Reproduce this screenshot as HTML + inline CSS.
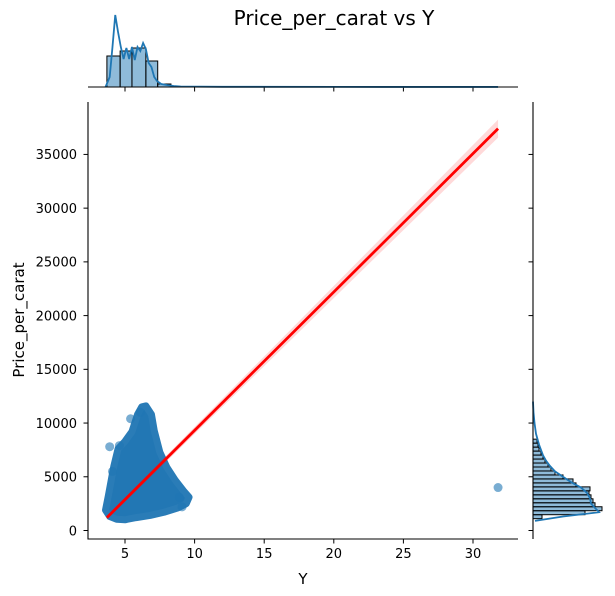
<!DOCTYPE html>
<html><head><meta charset="utf-8"><style>
body{margin:0;background:#fff}
svg{display:block;font-family:"DejaVu Sans","Liberation Sans",sans-serif}
</style></head><body>
<svg id="chart" width="615" height="596">
<rect width="615" height="596" fill="#fff"/>
<text x="334" y="25" font-size="20" text-anchor="middle">Price_per_carat vs Y</text>
<g id="main"></g>
</svg>
<script>
const xTicks=[5,10,15,20,25,30];
const yTicks=[0,5000,10000,15000,20000,25000,30000,35000];
const blobX=[3.6,3.8,4.0,4.2,4.5,5.0,5.5,5.9,6.2,6.5,6.9,7.1,7.5,8.0,8.6,9.2,9.6,9.4,8.8,7.8,6.8,5.8,5.0,4.4,3.9];
const blobY=[1900,3200,4600,6000,7600,8300,9200,10800,11500,11600,10800,9300,7300,5900,4700,3700,3100,2500,2100,1700,1400,1200,1000,1050,1300];
const outX=[5.4,31.8,9.1,4.6,4.1,6.1,8.9,3.9];
const outY=[10400,4000,2200,7900,5500,11000,3100,7800];
const regX=[3.7,31.8];
const regY=[1200,37400];
const topBinEdges=[3.7,4.65,5.5,6.5,7.35,8.3];
const topCounts=[31,36,39,26,3];
const topKdeX=[3.6,3.9,4.1,4.3,4.5,4.7,4.9,5.1,5.3,5.5,5.7,5.9,6.1,6.3,6.5,6.7,6.9,7.1,7.3,7.6,8.0,8.5,9,12,20,31.8];
const topKdeY=[0,10,40,72,55,40,28,39,28,40,27,40,36,44,38,24,20,10,6,3,2,1,0.5,0.2,0.1,0.05];
const rightBinStart=1100, rightBinW=370;
const rightCounts=[9,52,69,62,60,58,56,57,43,40,30,22,18,15,12,10,8,6,5,4];
const rightKdeY=[900,1300,1700,2100,2500,3000,3500,4000,4500,5000,5500,6000,6500,7000,7500,8000,9000,10000,11000,12000];
const rightKdeV=[2,30,66,62,58,57,54,48,38,30,22,17,13,10,8,6,3,1.5,0.5,0];
const X=v=>55.4+v*13.92;
const Y=v=>530.5-v*0.010745;
const NS='http://www.w3.org/2000/svg';
const g=document.getElementById('main');
function mk(t,a,p){const e=document.createElementNS(NS,t);for(const k in a)e.setAttribute(k,a[k]);(p||g).appendChild(e);return e;}
const bp=mk('polygon',{points:blobX.map((x,i)=>X(x)+','+Y(blobY[i])).join(' '),fill:'#2277b4',stroke:'#2a7cb7','stroke-width':'7','stroke-linejoin':'round'});


outX.forEach((x,i)=>{const c=mk('circle',{cx:X(x),cy:Y(outY[i]),r:4.5,fill:'#1f77b4','fill-opacity':'0.6'});

});
const x1=X(regX[0]),x2=X(regX[1]),y1=Y(regY[0]),y2=Y(regY[1]);
const band=mk('polygon',{points:`${x1},${y1-2} ${x2},${y2-9} ${x2},${y2+9} ${x1},${y1+2}`,fill:'#ff0000','fill-opacity':'0.15'});


const rl=mk('line',{x1:x1,y1:y1,x2:x2,y2:y2,stroke:'#ff0000','stroke-width':'2.8'});


const ax=mk('path',{d:'M88,102 V539 H518',fill:'none',stroke:'#000','stroke-width':'1.1'});


xTicks.forEach(t=>{mk('line',{x1:X(t),x2:X(t),y1:539,y2:543.5,stroke:'#000'});
const tx=mk('text',{x:X(t),y:558,'font-size':'13','text-anchor':'middle'});tx.textContent=t;


mk('line',{x1:X(t),x2:X(t),y1:87,y2:91.5,stroke:'#000'});});
yTicks.forEach(t=>{mk('line',{x1:83.5,x2:88,y1:Y(t),y2:Y(t),stroke:'#000'});
const tx=mk('text',{x:77,y:Y(t)+4.8,'font-size':'13','text-anchor':'end'});tx.textContent=t;


mk('line',{x1:528.5,x2:533,y1:Y(t),y2:Y(t),stroke:'#000'});});
const xl=mk('text',{x:303,y:584,'font-size':'15','text-anchor':'middle'});xl.textContent='Y';


const yl=mk('text',{x:0,y:0,'font-size':'15','text-anchor':'middle',transform:'translate(24,320) rotate(-90)'});yl.textContent='Price_per_carat';


const TB=87;
topCounts.forEach((c,i)=>{const r=mk('rect',{x:X(topBinEdges[i]),y:TB-c,width:X(topBinEdges[i+1])-X(topBinEdges[i]),height:c,fill:'#1f77b4','fill-opacity':'0.5',stroke:'#000','stroke-width':'1'});

});
const tk=mk('polyline',{points:topKdeX.map((x,i)=>X(x)+','+(TB-topKdeY[i])).join(' '),fill:'none',stroke:'#1f77b4','stroke-width':'1.8'});


mk('line',{x1:88,x2:518,y1:TB,y2:TB,stroke:'#000','stroke-width':'1.1'});
const RB=533;
rightCounts.forEach((c,i)=>{const y0=Y(rightBinStart+i*rightBinW),y1b=Y(rightBinStart+(i+1)*rightBinW);
const r=mk('rect',{x:RB,y:y1b,width:c,height:y0-y1b,fill:'#1f77b4','fill-opacity':'0.5',stroke:'#000','stroke-width':'1'});

});
const rk=mk('polyline',{points:rightKdeY.map((y,i)=>(RB+rightKdeV[i])+','+Y(y)).join(' '),fill:'none',stroke:'#1f77b4','stroke-width':'1.8'});


mk('line',{x1:RB,x2:RB,y1:102,y2:539,stroke:'#000','stroke-width':'1.1'});
</script>
</body></html>
